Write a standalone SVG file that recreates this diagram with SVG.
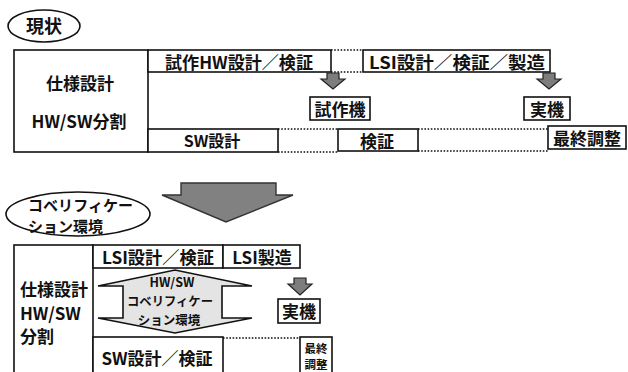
<svg xmlns="http://www.w3.org/2000/svg" width="628" height="372" viewBox="0 0 628 372">
<style>
text{font-family:"Noto Sans CJK JP","Noto Sans",sans-serif;fill:#111;dominant-baseline:central;font-weight:bold}
.b{fill:#fff;stroke:#111;stroke-width:1.6}
.d{stroke:#111;stroke-width:1.6;stroke-dasharray:1.6 1.6;fill:none}
.ar{fill:#7d7d7d;stroke:#222;stroke-width:1.2}
.m{font-size:17px;text-anchor:middle}
</style>
<rect width="628" height="372" fill="#fff"/>
<g id="label-genjo"><ellipse class="b" cx="44" cy="26" rx="36" ry="16"/><text class="m" x="44" y="25" style="font-size:18px">現状</text></g>
<g id="top-spec"><rect class="b" x="14" y="50" width="134" height="102"/><text class="m" x="80" y="82">仕様設計</text><text class="m" x="79" y="120">HW/SW分割</text></g>
<g id="top-proto-hw"><rect class="b" x="148" y="50" width="183" height="22"/><text class="m" x="239" y="61" textLength="148" lengthAdjust="spacingAndGlyphs">試作HW設計／検証</text></g>
<g id="top-lsi"><rect class="b" x="363" y="50" width="187" height="22"/><text class="m" x="457" y="61" textLength="176" lengthAdjust="spacingAndGlyphs">LSI設計／検証／製造</text></g>
<g id="top-proto"><rect class="b" x="310" y="97" width="60" height="23"/><text class="m" x="340" y="108">試作機</text></g>
<g id="top-real"><rect class="b" x="524" y="97" width="46" height="23"/><text class="m" x="547" y="108">実機</text></g>
<g id="top-sw"><rect class="b" x="148" y="129" width="130" height="23"/><text class="m" x="212" y="140" style="font-size:16px">SW設計</text></g>
<g id="top-verify"><rect class="b" x="338" y="129" width="80" height="22"/><text class="m" x="377" y="140">検証</text></g>
<g id="top-final"><rect class="b" x="548" y="126" width="78" height="23"/><text class="m" x="587" y="137">最終調整</text></g>
<g id="label-cover"><ellipse class="b" cx="78" cy="214" rx="72" ry="22"/><text x="28" y="204" style="font-size:15px" textLength="105" lengthAdjust="spacing">コベリフィケー</text><text x="28" y="225" style="font-size:15px">ション環境</text></g>
<g id="bot-spec"><rect class="b" x="14" y="245" width="79" height="140"/><text x="20" y="288" style="font-size:17px">仕様設計</text><text x="20" y="312" style="font-size:17px">HW/SW</text><text x="20" y="335" style="font-size:17px">分割</text></g>
<g id="bot-lsi"><rect class="b" x="93" y="245" width="130" height="23"/><text class="m" x="158" y="256" textLength="112" lengthAdjust="spacingAndGlyphs">LSI設計／検証</text></g>
<g id="bot-lsi-mfg"><rect class="b" x="223" y="245" width="77" height="23"/><text class="m" x="262" y="256">LSI製造</text></g>
<g id="bot-cover"><path d="M98,286 L175,270 L252,286 L222,286 L222,318 L252,318 L175,333 L98,318 L123,318 L123,286 Z" fill="#e4e4e4" stroke="#111" stroke-width="1.6"/><text class="m" x="172" y="281.5" style="font-size:12.5px">HW/SW</text><text class="m" x="170" y="300" style="font-size:12.5px" textLength="86" lengthAdjust="spacingAndGlyphs">コベリフィケー</text><text class="m" x="169" y="319" style="font-size:12.5px">ション環境</text></g>
<g id="bot-real"><rect class="b" x="278" y="299" width="42" height="24"/><text class="m" x="299" y="310">実機</text></g>
<g id="bot-sw"><rect class="b" x="93" y="337" width="130" height="48"/><text class="m" x="157" y="357">SW設計／検証</text></g>
<g id="bot-final"><rect class="b" x="300" y="337" width="32" height="48"/><text class="m" x="316" y="348" style="font-size:11.5px">最終</text><text class="m" x="316" y="364" style="font-size:11.5px">調整</text></g>
<g id="connectors">
<path class="d" d="M331,50 H363 M331,72 H363 M278,129 H338 M278,152 H338 M418,129 H548 M418,151 H548 M223,338 H300"/>
<path class="ar" d="M327,73 h12 v6 h6 l-12,10 l-12,-10 h6 z"/>
<path class="ar" d="M543,73 h12 v6 h6 l-12,10 l-12,-10 h6 z"/>
<path class="ar" d="M294,278 h12 v6 h6 l-12,11 l-12,-11 h6 z"/>
<path d="M181,183 H276 V195 H293 L226,222 L162,195 H181 Z" fill="#818181" stroke="#333" stroke-width="1.4"/>
</g>
</svg>
